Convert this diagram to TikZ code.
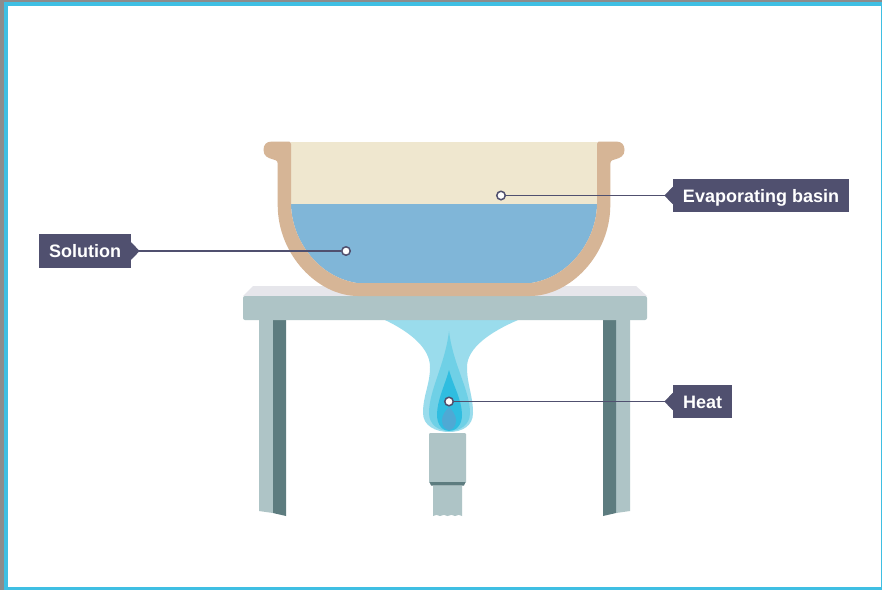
\documentclass[tikz,border=0pt]{standalone}
\usepackage{fontspec}
\setmainfont{Liberation Sans}
\usetikzlibrary{arrows.meta}
\definecolor{frameblue}{HTML}{3FBFE3}
\definecolor{framegrey}{HTML}{8C8C8C}
\definecolor{basin}{HTML}{D6B596}
\definecolor{air}{HTML}{EFE7CF}
\definecolor{water}{HTML}{80B6D8}
\definecolor{tabletop}{HTML}{E6E6EB}
\definecolor{steel}{HTML}{AEC4C6}
\definecolor{steeldark}{HTML}{5D7C7F}
\definecolor{flameA}{HTML}{9ADCEC}
\definecolor{flameB}{HTML}{6FD0E6}
\definecolor{flameC}{HTML}{2FBDE0}
\definecolor{flameD}{HTML}{4FA9D4}
\definecolor{tagfill}{HTML}{50506F}
\begin{document}
\begin{tikzpicture}[
  x=1pt, y=-1pt,
  tag/.style={fill=tagfill, text=white, font=\fontsize{18}{20}\selectfont\bfseries,
              inner sep=0pt, minimum height=33.5pt, text height=13.5pt, text depth=0.5pt},
  dot/.style={circle, draw=tagfill, fill=white, line width=1.5pt,
              inner sep=0pt, minimum size=8.5pt},
  leader/.style={{Triangle[reversed,length=8.5pt,width=17pt]}-, tagfill, line width=1.3pt}
]
\useasboundingbox (0,0) rectangle (882,590);
\fill[framegrey] (0,0) rectangle (882,590);
\fill[frameblue] (4,2) rectangle (882,590);
\fill[white] (8,6) rectangle (881,587);
% table
\fill[tabletop] (243,296) -- (253,286) -- (636,286) -- (647,296) -- cycle;
\fill[steel] (259,318) -- (273,318) -- (273,513) -- (259,511) -- cycle;
\fill[steeldark] (273,318) -- (286,318) -- (286,516) -- (273,513) -- cycle;
\fill[steel] (630,318) -- (616,318) -- (616,513) -- (630,511) -- cycle;
\fill[steeldark] (616,318) -- (603,318) -- (603,516) -- (616,513) -- cycle;
% flame
\fill[flameA] (385,320) .. controls (410,332) and (430,348) .. (430,367)
  .. controls (430,385) and (423,395) .. (423,413)
  .. controls (423,426) and (436,432) .. (449,432)
  .. controls (462,432) and (473,426) .. (473,413)
  .. controls (473,395) and (467,385) .. (467,367)
  .. controls (467,348) and (490,332) .. (518,320) -- cycle;
\fill[flameB] (449,331) .. controls (445,365) and (429,390) .. (429,413)
  .. controls (429,425) and (439,431) .. (449,431)
  .. controls (460,431) and (470,425) .. (470,413)
  .. controls (470,390) and (453,365) .. (449,331) -- cycle;
\fill[flameC] (449,370) .. controls (445,385) and (437,400) .. (437,415)
  .. controls (437,425) and (443,431) .. (449,431)
  .. controls (456,431) and (462,425) .. (462,415)
  .. controls (462,400) and (453,385) .. (449,370) -- cycle;
\fill[flameD] (449,407) .. controls (446,410) and (442,415) .. (442,420)
  .. controls (442,426) and (445,430) .. (449,430)
  .. controls (453,430) and (456,426) .. (456,420)
  .. controls (456,415) and (452,410) .. (449,407) -- cycle;
% burner
\fill[steel, rounded corners=1pt] (429,433) rectangle (466,483);
\fill[steeldark] (429.5,482) -- (465.5,482) -- (464,485.5) -- (431,485.5) -- cycle;
\fill[steel] (433,485.5) -- (462,485.5) -- (462,516)
  .. controls (460,514.5) and (458,514.5) .. (455,516)
  .. controls (453,514.5) and (450,514.5) .. (447.5,516)
  .. controls (445,514.5) and (443,514.5) .. (440,516)
  .. controls (438,514.5) and (435,514.5) .. (433,516) -- cycle;
\fill[steel, rounded corners=2pt] (243,296) rectangle (647,320);
% basin
\fill[air] (291,141.5) rectangle (597,204);
\fill[water] (291,204) -- (597,204) .. controls (596.5,240) and (570,277) .. (531,283)
  -- (357,283) .. controls (318,277) and (291.5,240) .. (291,204) -- cycle;
\fill[basin] (289,141.5) -- (272,141.5) .. controls (266,141.5) and (263.5,145) .. (263.5,150)
  .. controls (263.5,156) and (268,158) .. (272,159)
  .. controls (275,160) and (277.7,160) .. (277.7,164)
  -- (277.7,205) .. controls (277.7,255) and (318,296) .. (358,296)
  -- (530,296) .. controls (570,296) and (610.3,255) .. (610.3,205)
  -- (610.3,164) .. controls (610.3,160) and (613,160) .. (616,159)
  .. controls (620,158) and (624.5,156) .. (624.5,150)
  .. controls (624.5,145) and (622,141.5) .. (616,141.5)
  -- (599,141.5) .. controls (598,141.5) and (597,142.5) .. (597,144)
  -- (597,204) .. controls (596.5,240) and (570,277) .. (531,283)
  -- (357,283) .. controls (318,277) and (291.5,240) .. (291,204)
  -- (291,144) .. controls (291,142.5) and (290,141.5) .. (289,141.5) -- cycle;
% labels
\node[tag, minimum width=92pt] (solution) at (85,251) {Solution};
\node[tag, minimum width=176pt] (evaporating) at (761,195.5) {Evaporating basin};
\node[tag, minimum width=59pt] (heat) at (702.5,401.5) {Heat};
\node[dot] (solutionend) at (346,251) {};
\node[dot] (evaporatingend) at (501,195.5) {};
\node[dot] (heatend) at (449,401.5) {};
\draw[leader] (solution.east) -- (solutionend);
\draw[leader] (evaporating.west) -- (evaporatingend);
\draw[leader] (heat.west) -- (heatend);
\end{tikzpicture}
\end{document}
